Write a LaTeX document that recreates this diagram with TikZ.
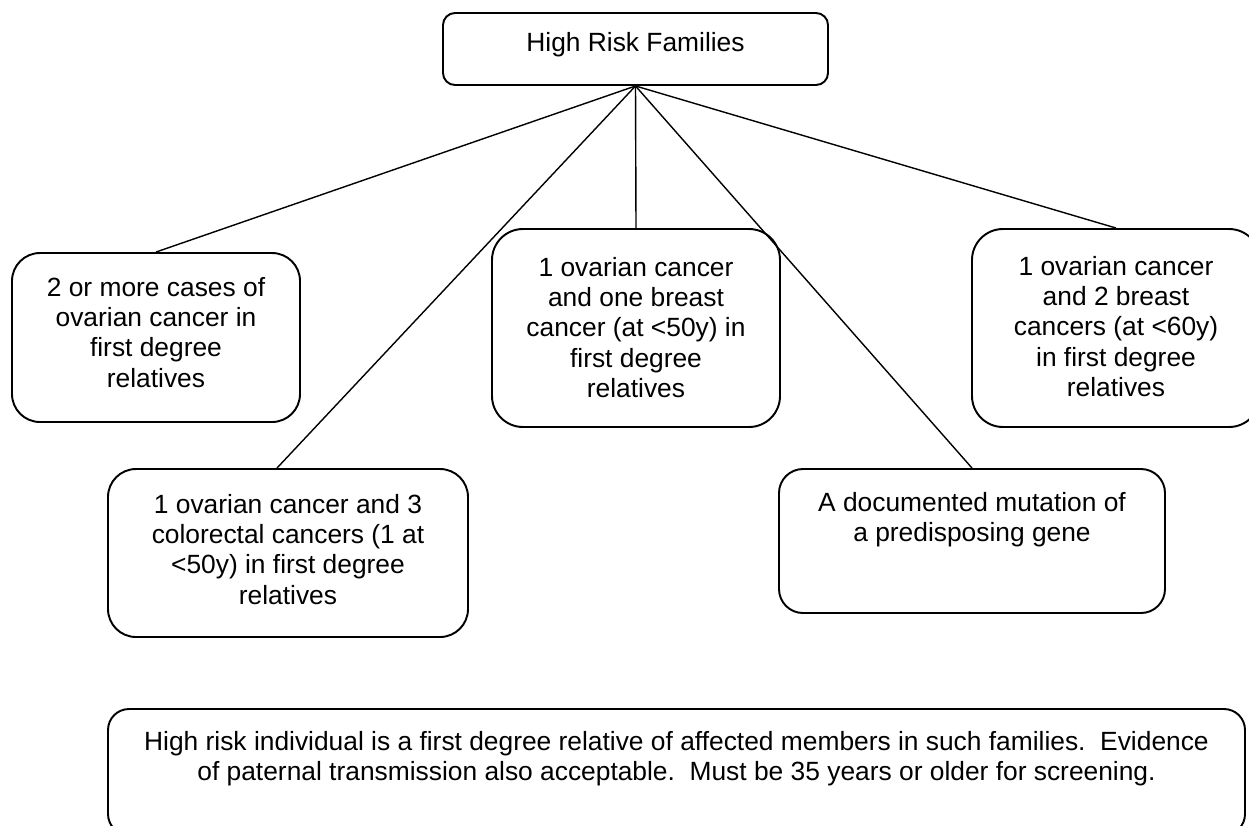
\documentclass[tikz,border=0pt]{standalone}
\usepackage{fontspec}
\setmainfont{Liberation Sans}
\usepackage{tikz}

\begin{document}
\begin{tikzpicture}[
        riskbox/.style={draw, line width=1.1pt, inner sep=0pt},
        risktext/.style={anchor=north, align=center, inner sep=0pt, font=\fontsize{15pt}{17.2pt}\selectfont},
        riskline/.style={line width=0.8pt}]

        \useasboundingbox (0,0) rectangle (24.98,-16.5);

        \node [riskbox, rounded corners=0.24cm, minimum width=7.7cm, minimum height=1.44cm] (fam) at (12.71,-0.98) {};
        \node [risktext] (famtext) at ([yshift=-0.4cm]fam.north) {High Risk Families};

        \node [riskbox, rounded corners=0.56cm, minimum width=5.76cm, minimum height=3.38cm] (twoov) at (3.12,-6.75) {};
        \node [risktext] (twoovtext) at ([yshift=-0.5cm]twoov.north) {2 or more cases of\\ovarian cancer in\\first degree\\relatives};

        \node [riskbox, rounded corners=0.62cm, minimum width=5.76cm, minimum height=3.96cm] (onebreast) at (12.72,-6.56) {};
        \node [risktext] (onebreasttext) at ([yshift=-0.58cm]onebreast.north) {1 ovarian cancer\\and one breast\\cancer (at <50y) in\\first degree\\relatives};

        \node [riskbox, rounded corners=0.62cm, minimum width=5.76cm, minimum height=3.96cm] (twobreast) at (22.32,-6.56) {};
        \node [risktext] (twobreasttext) at ([yshift=-0.56cm]twobreast.north) {1 ovarian cancer\\and 2 breast\\cancers (at <60y)\\in first degree\\relatives};

        \node [riskbox, rounded corners=0.56cm, minimum width=7.2cm, minimum height=3.36cm] (colo) at (5.76,-11.06) {};
        \node [risktext] (colotext) at ([yshift=-0.52cm]colo.north) {1 ovarian cancer and 3\\colorectal cancers (1 at\\<50y) in first degree\\relatives};

        \node [riskbox, rounded corners=0.48cm, minimum width=7.72cm, minimum height=2.88cm] (mutation) at (19.44,-10.82) {};
        \node [risktext] (mutationtext) at ([yshift=-0.48cm]mutation.north) {A documented mutation of\\a predisposing gene};

        \node [riskbox, rounded corners=0.42cm, minimum width=22.74cm, minimum height=2.52cm] (indiv) at (13.53,-15.44) {};
        \node [risktext] (indivtext) at ([yshift=-0.46cm]indiv.north) {High risk individual is a first degree relative of affected members in such families.\ \ Evidence\\of paternal transmission also acceptable.\ \ Must be 35 years or older for screening.};

        \coordinate (coloin) at ([xshift=-0.22cm]colo.north);

        \draw [riskline](fam.south) -- (twoov.north);
        \draw [riskline](fam.south) -- (coloin);
        \draw [riskline](fam.south) -- (onebreast.north);
        \draw [riskline](fam.south) -- (mutation.north);
        \draw [riskline](fam.south) -- (twobreast.north);
    \end{tikzpicture}
\end{document}
